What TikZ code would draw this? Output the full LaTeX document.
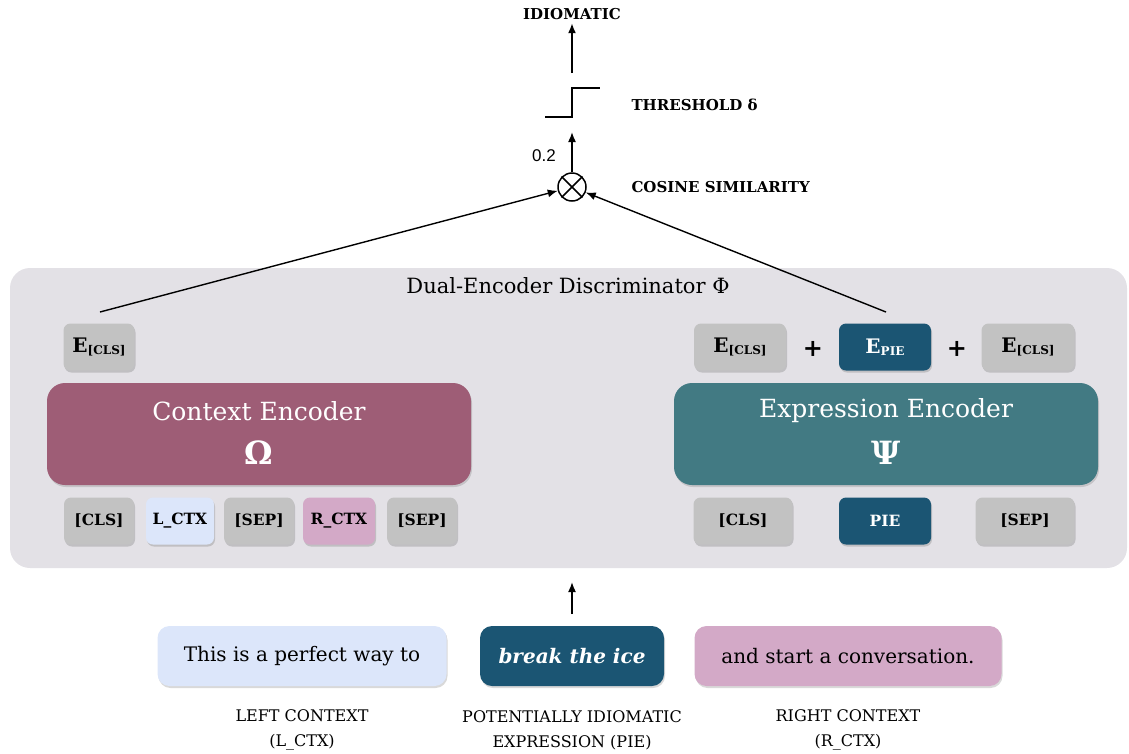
\documentclass[tikz,border=0pt]{standalone}
\usepackage{fontspec}
\setmainfont{DejaVu Serif}
\newfontfamily\numfont{Liberation Sans}
\usetikzlibrary{shadows, arrows.meta}
\tikzset{>={Latex[length=10pt, width=8pt]}}
\definecolor{panelgray}{HTML}{E3E1E6}
\definecolor{tokgray}{HTML}{C2C2C2}
\definecolor{ctxpink}{HTML}{9E5D76}
\definecolor{exprteal}{HTML}{427A83}
\definecolor{piedark}{HTML}{1B5573}
\definecolor{lctxblue}{HTML}{DCE6FA}
\definecolor{rctxpink}{HTML}{D3A9C7}
\newcommand{\fsz}[1]{\fontsize{#1}{#1}\selectfont}
\newcommand{\embcls}{{\fsz{20}\bfseries E}{\fsz{12}\bfseries\raisebox{-2pt}{[CLS]}}}
\tikzset{
  tok/.style={rounded corners=7pt, fill=tokgray, minimum height=47pt, inner sep=0pt,
    font=\fsz{15.5}\bfseries, drop shadow={shadow xshift=1pt, shadow yshift=-2pt, opacity=.35}},
  encoder/.style={rounded corners=18pt, minimum width=424pt, minimum height=102pt,
    drop shadow={shadow xshift=1pt, shadow yshift=-2pt, opacity=.3}},
  enctext/.style={text=white, font=\fsz{25}},
  encsym/.style={text=white, font=\fsz{32}\bfseries},
  sentbox/.style={rounded corners=12pt, minimum height=60pt, inner sep=0pt,
    font=\fsz{20}, drop shadow={shadow xshift=1pt, shadow yshift=-2pt, opacity=.3}},
  caption/.style={font=\fontsize{16}{25}\selectfont, align=center},
  sidelabel/.style={font=\fsz{15}\bfseries, anchor=west},
  arr/.style={->, line width=1.6pt},
}
\begin{document}
\begin{tikzpicture}[x=1pt, y=-1pt]
    \useasboundingbox (0, 0) rectangle (1129, 753);
    % discriminator panel
    \fill[panelgray, rounded corners=20pt](10, 268) rectangle (1127, 568);
    \node[font=\fsz{21}] (title) at (568, 286) {Dual-Encoder Discriminator Φ};

    % context side
    \node[tok, minimum width=71pt] (lcls) at (99, 347) {\embcls};
    \node[encoder, fill=ctxpink] (ctxenc) at (259, 434) {};
    \node[enctext] (ctxname) at (259, 411) {Context Encoder};
    \node[encsym] (ctxsym) at (259, 453) {Ω};
    \node[tok, minimum width=70pt] (ccls) at (99, 521) {[CLS]};
    \node[tok, minimum width=68pt, fill=lctxblue] (clctx) at (180, 521) {L\_CTX};
    \node[tok, minimum width=70pt] (csep) at (259, 521) {[SEP]};
    \node[tok, minimum width=72pt, fill=rctxpink] (crctx) at (339, 521) {R\_CTX};
    \node[tok, minimum width=70pt] (csepb) at (422, 521) {[SEP]};

    % expression side
    \node[tok, minimum width=92pt] (rclsa) at (740, 347) {\embcls};
    \node[font=\fsz{24}\bfseries] (plusa) at (813, 349) {+};
    \node[tok, minimum width=92pt, fill=piedark, text=white] (epie) at (885, 347)
        {{\fsz{20}\bfseries E}{\fsz{12}\bfseries\raisebox{-2pt}{PIE}}};
    \node[font=\fsz{24}\bfseries] (plusb) at (957, 349) {+};
    \node[tok, minimum width=93pt] (rclsb) at (1028, 347) {\embcls};
    \node[encoder, fill=exprteal] (exprenc) at (886, 434) {};
    \node[enctext] (exprname) at (886, 411) {Expression Encoder};
    \node[encsym] (exprsym) at (886, 453) {Ψ};
    \node[tok, minimum width=99pt] (ecls) at (743, 521) {[CLS]};
    \node[tok, minimum width=92pt, fill=piedark, text=white] (epietok) at (885, 521) {PIE};
    \node[tok, minimum width=99pt] (esep) at (1025, 521) {[SEP]};

    % input sentence
    \node[sentbox, minimum width=289pt, fill=lctxblue] (leftctx) at (302, 656) {This is a perfect way to};
    \node[sentbox, minimum width=184pt, fill=piedark, text=white] (pie) at (572, 656) {\itshape\bfseries break the ice};
    \node[sentbox, minimum width=307pt, fill=rctxpink] (rightctx) at (848, 656) {and start a conversation.};
    \node[caption] (leftcap) at (302, 730) {LEFT CONTEXT\\(L\_CTX)};
    \node[caption] (piecap) at (572, 730) {POTENTIALLY IDIOMATIC\\EXPRESSION (PIE)};
    \node[caption] (rightcap) at (848, 730) {RIGHT CONTEXT\\(R\_CTX)};
    \coordinate (inlow) at (572, 614);
    \coordinate (inhigh) at (572, 582);
    \draw[arr](inlow)--(inhigh);

    % similarity and threshold
    \node[draw, line width=1.5pt, circle, minimum size=28pt, inner sep=0pt] (cos) at (572, 187) {};
    \draw[line width=1.5pt](cos.north west)--(cos.south east) (cos.north east)--(cos.south west);
    \node[sidelabel] (coslabel) at (628, 187) {COSINE SIMILARITY};
    \coordinate (ltail) at (100, 312);
    \coordinate (rtail) at (886, 312);
    \draw[arr, line width=1.4pt](ltail)--(cos);
    \draw[arr, line width=1.4pt](rtail)--(cos);
    \coordinate (steptop) at (572, 132);
    \draw[arr](cos)--(steptop);
    \node[font=\fsz{17}\numfont] (simval) at (544, 156) {0.2};
    \draw[line width=2pt](545, 117)--(572, 117)--(572, 88)--(600, 88);
    \node[sidelabel] (thrlabel) at (628, 105) {THRESHOLD δ};
    \coordinate (outlow) at (572, 73);
    \node[font=\fsz{15}\bfseries] (idiom) at (572, 14) {IDIOMATIC};
    \draw[arr](outlow)--(idiom);
\end{tikzpicture}
\end{document}
